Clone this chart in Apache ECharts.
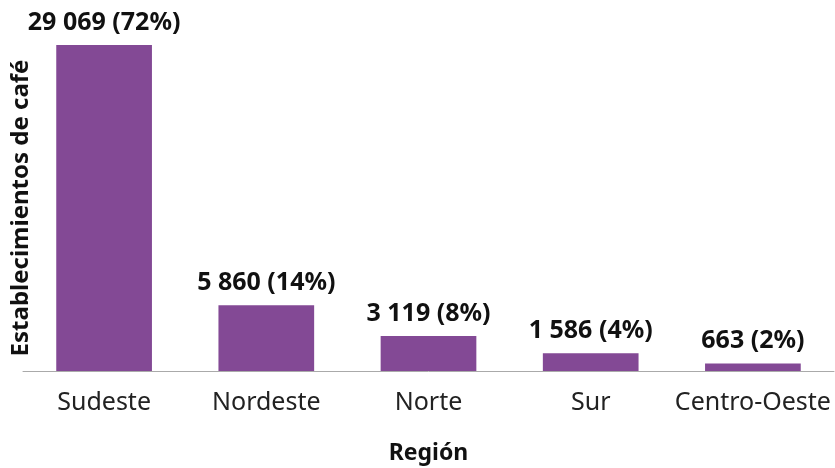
<!DOCTYPE html>
<html>
<head>
<meta charset="utf-8">
<script src="https://cdn.jsdelivr.net/npm/echarts@6/dist/echarts.min.js"></script>
<style>
  html, body { margin: 0; padding: 0; background: #fff; }
  #chart { width: 835px; height: 468px; }
</style>
</head>
<body>
<div id="chart"></div>
<script>
  const regions = ['Sudeste', 'Nordeste', 'Norte', 'Sur', 'Centro-Oeste'];
  const counts = [29069, 5860, 3119, 1586, 663];
  const shares = [72, 14, 8, 4, 2];

  const fontFamily = '"Noto Sans", "Open Sans", sans-serif';
  const fmt = (v) => String(v).replace(/\B(?=(\d{3})+(?!\d))/g, ' ');

  const chart = echarts.init(document.getElementById('chart'));
  chart.setOption({
    animation: false,
    textStyle: { fontFamily: fontFamily },
    grid: { left: 23, right: 1, top: 45, bottom: 97, outerBoundsMode: 'none' },
    xAxis: {
      type: 'category',
      data: regions,
      name: 'Región',
      nameLocation: 'middle',
      nameGap: 71,
      nameTextStyle: { fontSize: 23, fontWeight: 'bold', color: '#111', fontFamily: fontFamily },
      axisLine: { lineStyle: { color: '#aaaaaa', width: 1 } },
      axisTick: { show: false },
      axisLabel: { interval: 0, fontSize: 25, color: '#222', margin: 19, fontFamily: fontFamily }
    },
    yAxis: {
      type: 'value',
      min: 0,
      max: 29069,
      name: 'Establecimientos de café',
      nameLocation: 'middle',
      nameGap: -10,
      nameTextStyle: { fontSize: 24, fontWeight: 'bold', color: '#111', fontFamily: fontFamily },
      axisLine: { show: false },
      axisTick: { show: false },
      axisLabel: { show: false },
      splitLine: { show: false }
    },
    series: [{
      type: 'bar',
      data: counts,
      barCategoryGap: '41%',
      itemStyle: { color: '#834995' },
      label: {
        show: true,
        position: 'top',
        distance: 10,
        fontSize: 25,
        fontWeight: 'bold',
        color: '#111',
        fontFamily: fontFamily,
        formatter: (p) => fmt(counts[p.dataIndex]) + ' (' + shares[p.dataIndex] + '%)'
      }
    }]
  });
</script>
</body>
</html>
